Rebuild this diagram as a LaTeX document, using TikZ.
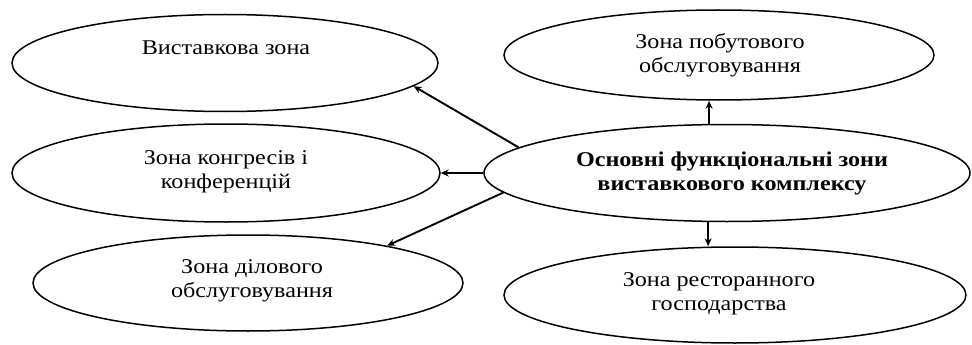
\documentclass[tikz,border=0pt]{standalone}
\usepackage{fontspec}
\setmainfont{Liberation Serif}[FakeStretch=1.15]
\usetikzlibrary{shapes.geometric,arrows.meta}

\tikzset{
  zone/.style={draw, ellipse, line width=1.5pt, inner sep=0pt},
  zonetext/.style={align=center, font=\fontsize{21}{24}\selectfont, inner sep=0pt},
  link/.style={line width=1.9pt, -{Stealth[length=8pt,width=7pt]}},
}

\begin{document}
\begin{tikzpicture}[x=1pt,y=-1pt]
  \useasboundingbox (0,0) rectangle (972,345);

  % outer zones, left column
  \node[zone, minimum width=426pt, minimum height=97pt] (e1) at (225,63) {};
  \node[zone, minimum width=428pt, minimum height=98pt] (e2) at (226,173) {};
  \node[zone, minimum width=430pt, minimum height=96pt] (e3) at (248,283) {};
  % outer zones, right column
  \node[zone, minimum width=430pt, minimum height=90pt] (e4) at (719,55) {};
  \node[zone, minimum width=462pt, minimum height=96pt] (e6) at (735,295) {};
  % central zone
  \node[zone, minimum width=486pt, minimum height=97pt] (main) at (727,173) {};

  % labels
  \node[zonetext] (t1) at (226,48) {Виставкова зона};
  \node[zonetext] (t2) at (226,172) {Зона конгресів і\\конференцій};
  \node[zonetext] (t3) at (252,281) {Зона ділового\\обслуговування};
  \node[zonetext] (t4) at (720,55) {Зона побутового\\обслуговування};
  \node[zonetext, font=\fontsize{21}{24}\selectfont\bfseries] (tm) at (732,173) {Основні функціональні зони\\виставкового комплексу};
  \node[zonetext] (t6) at (719,294) {Зона ресторанного\\господарства};

  % connectors from the central zone
  \draw[link] (main.173.9) -- (e1.-7);
  \draw[link] (main.west) -- (e2.east);
  \draw[link] (main.185.9) -- (e3.15.7);
  \draw[link] (main.110.6) -- (main.110.6 |- e4.south);
  \draw[link] (main.249.4) -- (main.249.4 |- e6.north);
\end{tikzpicture}
\end{document}
